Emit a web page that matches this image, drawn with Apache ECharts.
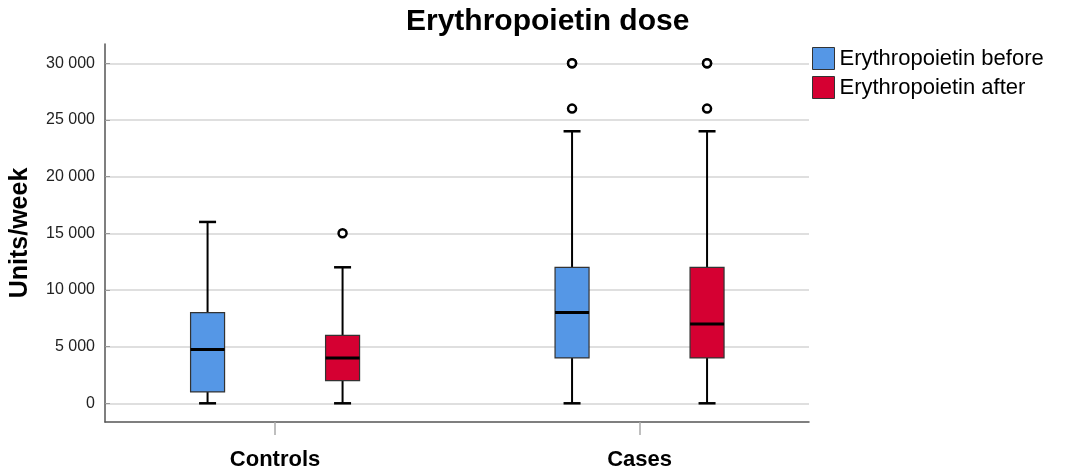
<!DOCTYPE html>
<html><head><meta charset="utf-8">
<script src="https://cdn.jsdelivr.net/npm/echarts@6/dist/echarts.min.js"></script>
<style>html,body{margin:0;padding:0;background:#fff}#c{width:1070px;height:472px}</style>
</head><body><div id="c"></div>
<script>
const categories = ['Controls', 'Cases'];
const seriesNames = ['Erythropoietin before', 'Erythropoietin after'];
// five-number summaries per category: [min, Q1, median, Q3, max]
const beforeStats = [[0, 1000, 4750, 8000, 16000], [0, 4000, 8000, 12000, 24000]];
const afterStats = [[0, 2000, 4000, 6000, 12000], [0, 4000, 7000, 12000, 24000]];
// outliers per category
const beforeOutliers = [[], [26000, 30000, 30000]];
const afterOutliers = [[15000], [26000, 30000, 30000]];
const yTicks = [0, 5000, 10000, 15000, 20000, 25000, 30000];

const colors = ['#5597e6', '#d50032'];
const groupOffset = 67.5, boxW = 34, capW = 17;
const FONT = '"Liberation Sans", Arial, sans-serif';

function boxRender(side) {
  return function (params, api) {
    const x = api.value(0);
    const p = [1, 2, 3, 4, 5].map(k => api.coord([x, api.value(k)]));
    const cx = p[0][0] + side * groupOffset;
    const yLow = p[0][1], yQ1 = p[1][1], yMed = p[2][1], yQ3 = p[3][1], yHigh = p[4][1];
    const ls = { stroke: '#000', lineWidth: 2 };
    const cs = { stroke: '#000', lineWidth: 2.5 };
    return { type: 'group', children: [
      { type: 'line', shape: { x1: cx, y1: yLow, x2: cx, y2: yQ1 }, style: ls },
      { type: 'line', shape: { x1: cx, y1: yQ3, x2: cx, y2: yHigh }, style: ls },
      { type: 'line', shape: { x1: cx - capW / 2, y1: yLow, x2: cx + capW / 2, y2: yLow }, style: cs },
      { type: 'line', shape: { x1: cx - capW / 2, y1: yHigh, x2: cx + capW / 2, y2: yHigh }, style: cs },
      { type: 'rect', shape: { x: cx - boxW / 2, y: yQ3, width: boxW, height: yQ1 - yQ3 },
        style: { fill: api.visual('color'), stroke: '#333', lineWidth: 1.2 } },
      { type: 'line', shape: { x1: cx - boxW / 2, y1: yMed, x2: cx + boxW / 2, y2: yMed },
        style: { stroke: '#000', lineWidth: 3 } }
    ] };
  };
}
function outlierRender(side) {
  return function (params, api) {
    const pt = api.coord([api.value(0), api.value(1)]);
    return { type: 'circle', shape: { cx: pt[0] + side * groupOffset, cy: pt[1], r: 4 },
      style: { fill: '#fff', stroke: '#000', lineWidth: 2.5 } };
  };
}
function outlierData(list) {
  const out = [];
  list.forEach((vals, i) => vals.forEach(v => out.push([i + 1, v])));
  return out;
}

const chart = echarts.init(document.getElementById('c'));
chart.setOption({
  animation: false,
  textStyle: { fontFamily: FONT },
  title: { text: 'Erythropoietin dose', left: 406, top: 7, padding: 0,
    textStyle: { fontSize: 30, fontWeight: 'bold', color: '#000', fontFamily: FONT } },
  legend: { data: seriesNames.map(n => ({ name: n, icon: 'rect' })), orient: 'vertical',
    left: 812, top: 47, itemWidth: 22, itemHeight: 22, itemGap: 6, padding: 0,
    itemStyle: { borderColor: '#333', borderWidth: 1 },
    textStyle: { fontSize: 22, color: '#000', fontFamily: FONT } },
  grid: { left: 104, right: 261, top: 44, bottom: 50, containLabel: false },
  xAxis: {
    type: 'value', min: 0.5334, max: 2.4649,
    axisLine: { show: true, onZero: false, lineStyle: { color: '#555', width: 1.5 } },
    axisTick: { show: true, customValues: [1, 2], length: 13, lineStyle: { color: '#aaa', width: 1.5 } },
    axisLabel: { customValues: [1, 2], formatter: v => categories[Math.round(v) - 1] || '',
      fontSize: 22, fontWeight: 'bold', color: '#000', margin: 27, fontFamily: FONT },
    splitLine: { show: false }
  },
  yAxis: {
    type: 'value', min: -1650, max: 31700,
    name: 'Units/week', nameLocation: 'middle', nameGap: 72,
    nameTextStyle: { fontSize: 25, fontWeight: 'bold', color: '#000', fontFamily: FONT },
    axisLine: { show: true, onZero: false, lineStyle: { color: '#555', width: 1.5 } },
    axisTick: { show: true, inside: true, length: 5, customValues: yTicks, lineStyle: { color: '#999' } },
    axisLabel: { customValues: yTicks, formatter: v => String(v).replace(/\B(?=(\d{3})+(?!\d))/g, ' '),
      fontSize: 16, color: '#222', margin: 10, fontFamily: FONT },
    splitLine: { show: true, lineStyle: { color: '#d4d4d4', width: 1.5 } }
  },
  series: [
    { name: seriesNames[0], type: 'custom', itemStyle: { color: colors[0] },
      renderItem: boxRender(-1), encode: { x: 0, y: [1, 2, 3, 4, 5] },
      data: beforeStats.map((s, i) => [i + 1].concat(s)) },
    { name: seriesNames[1], type: 'custom', itemStyle: { color: colors[1] },
      renderItem: boxRender(1), encode: { x: 0, y: [1, 2, 3, 4, 5] },
      data: afterStats.map((s, i) => [i + 1].concat(s)) },
    { name: 'before outliers', type: 'custom', renderItem: outlierRender(-1),
      encode: { x: 0, y: 1 }, data: outlierData(beforeOutliers) },
    { name: 'after outliers', type: 'custom', renderItem: outlierRender(1),
      encode: { x: 0, y: 1 }, data: outlierData(afterOutliers) }
  ]
});
</script></body></html>
